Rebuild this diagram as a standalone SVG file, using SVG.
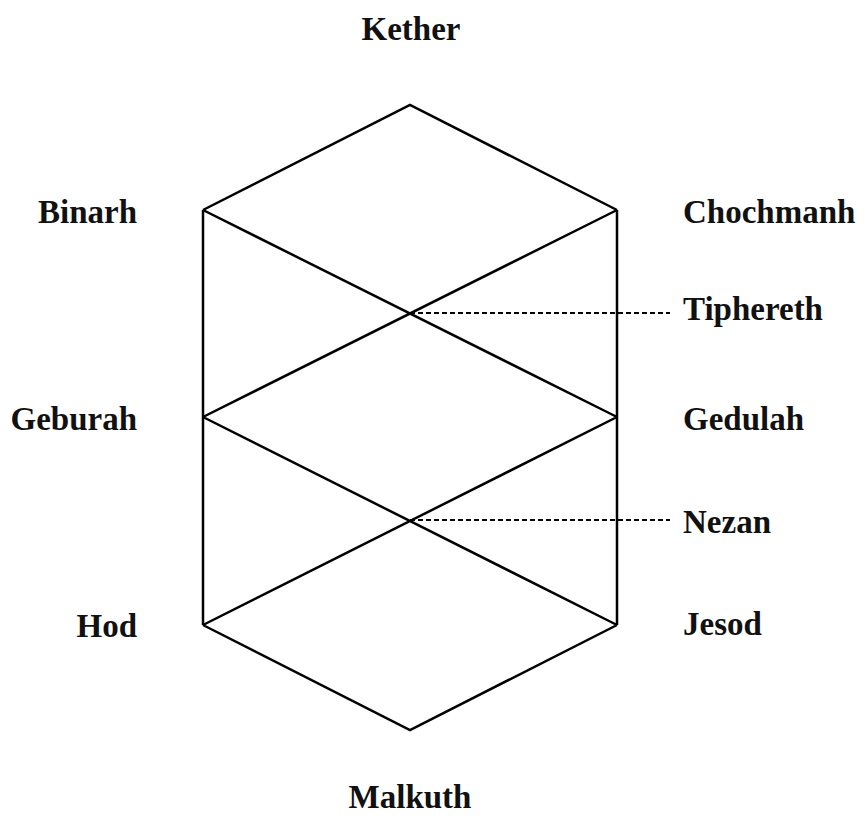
<svg xmlns="http://www.w3.org/2000/svg" width="865" height="823" viewBox="0 0 865 823">
<style>
.l{fill:none;stroke:#000;stroke-width:2.5;stroke-linejoin:miter}
.d{fill:none;stroke:#000;stroke-width:2;stroke-dasharray:5,3}
text{font-family:"Liberation Serif","Times New Roman",serif;font-weight:bold;font-size:33px;fill:#111}
.e{text-anchor:end}
.m{text-anchor:middle}
</style>
<rect width="865" height="823" fill="#fff"/>
<g id="connectors">
<path class="l" d="M203,210 L410,105 L617,210 M203,625 L410,730 L617,625 M203,210 V625 M617,210 V625 M203,210 L617,417 M617,210 L203,417 M203,417 L617,625 M617,417 L203,625"/>
<path class="d" d="M410,313 H670 M410,520 H670"/>
</g>
<g id="kether"><text class="m" x="411" y="40">Kether</text></g>
<g id="binarh"><text class="e" x="137" y="223">Binarh</text></g>
<g id="chochmanh"><text x="683" y="223">Chochmanh</text></g>
<g id="tiphereth"><text x="683" y="320">Tiphereth</text></g>
<g id="geburah"><text class="e" x="137" y="430">Geburah</text></g>
<g id="gedulah"><text x="683" y="430">Gedulah</text></g>
<g id="nezan"><text x="683" y="533">Nezan</text></g>
<g id="hod"><text class="e" x="137" y="637">Hod</text></g>
<g id="jesod"><text x="683" y="635">Jesod</text></g>
<g id="malkuth"><text class="m" x="410" y="808">Malkuth</text></g>
</svg>
